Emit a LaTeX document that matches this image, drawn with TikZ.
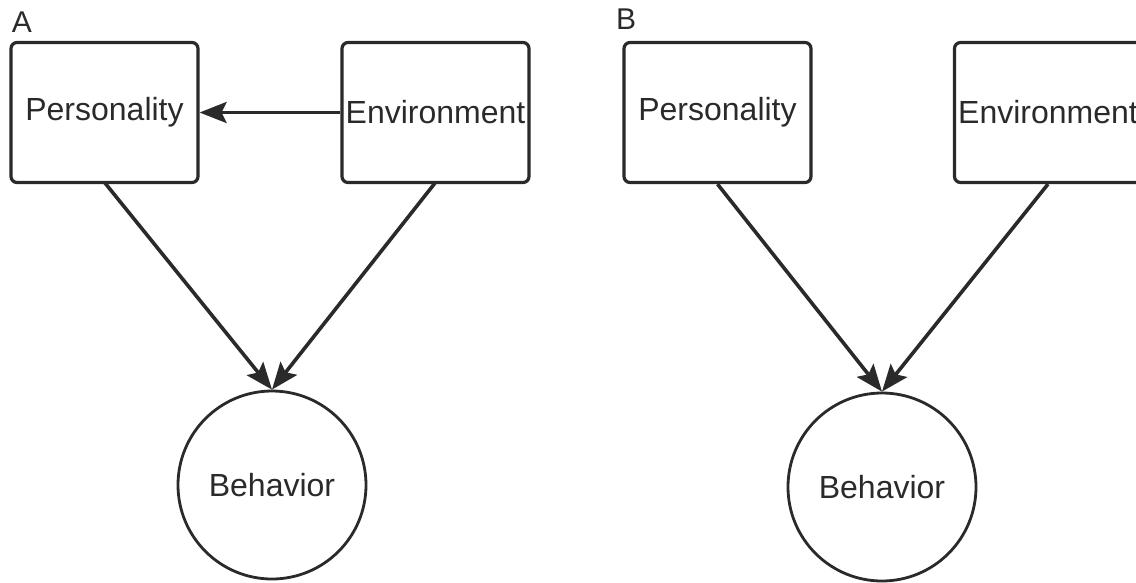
\documentclass[tikz,border=0pt]{standalone}
\usepackage{fontspec}
\setmainfont{Liberation Sans}
\usetikzlibrary{arrows.meta}
\definecolor{ink}{HTML}{2A2A2A}
\tikzset{
  box/.style={draw=ink, line width=3.2pt, rounded corners=6pt, minimum width=187pt, minimum height=140pt, inner sep=0pt, text=ink, font=\fontsize{32}{36}\selectfont},
  blob/.style={draw=ink, line width=2.8pt, circle, minimum size=188pt, inner sep=0pt, text=ink, font=\fontsize{32}{36}\selectfont},
  lbl/.style={text=ink, font=\fontsize{30}{32}\selectfont, inner sep=0pt},
  conn/.style={draw=ink, line width=3.6pt, -{Stealth[length=27pt,width=21pt,inset=5pt]}}
}
\begin{document}
\begin{tikzpicture}[x=1pt,y=-1pt]
\useasboundingbox (0,0) rectangle (1136,582);
% Panel A
\node[lbl] (la) at (22,22) {A};
\node[box] (pa) at (104.5,112.5) {Personality};
\node[box] (ea) at (435.5,112.5) {Environment};
\node[blob] (ba) at (272,485) {Behavior};
\draw[conn] (ea.west) -- (pa.east);
\draw[conn] (105,183) -- (ba.north);
\draw[conn] (435,183) -- (ba.north);
% Panel B
\node[lbl] (lb) at (626,19) {B};
\node[box] (pb) at (717.5,112.5) {Personality};
\node[box] (eb) at (1048,112.5) {Environment};
\node[blob] (bb) at (882,487) {Behavior};
\draw[conn] (pb.south) -- (bb.north);
\draw[conn] (eb.south) -- (bb.north);
\end{tikzpicture}
\end{document}
